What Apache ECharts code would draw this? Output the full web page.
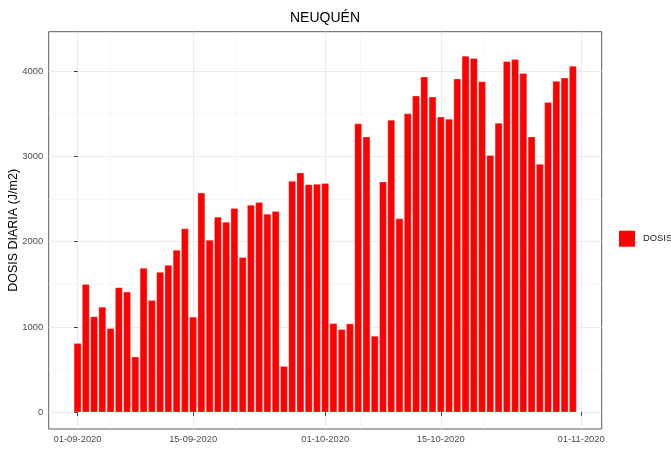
<!DOCTYPE html>
<html><head><meta charset="utf-8">
<script src="https://cdn.jsdelivr.net/npm/echarts@6/dist/echarts.min.js"></script>
<style>html,body{margin:0;padding:0;background:#fff}#c{width:671px;height:449px}</style>
</head><body><div id="c"></div>
<script>
// Daily dose (J/m2), one bar per day from 01-09-2020 to 31-10-2020
const dosis = [810,1500,1122,1235,984,1463,1412,651,1690,1314,
  1643,1725,1902,2153,1118,2573,2020,2290,2231,2392,
  1816,2431,2463,2325,2357,541,2710,2808,2671,2675,
  2686,1043,973,1039,3384,3231,894,2702,3427,2271,
  3502,3710,3933,3698,3463,3439,3910,4176,4149,3878,
  3012,3392,4114,4137,3973,3231,2910,3635,3882,3922,4059];
// x position = days since 01-09-2020
const xTickDays = [0,14,30,44,61];
const xTickLabels = ['01-09-2020','15-09-2020','01-10-2020','15-10-2020','01-11-2020'];
const xMinorDays = [4,19.25,34.25,49.25];
const yTicks = [0,1000,2000,3000,4000];
const yMinor = [500,1500,2500,3500];

const font = '"Liberation Sans", Arial, sans-serif';
const xMin = -3.495, xMax = 63.495, yMin = -196, yMax = 4461;
const chart = echarts.init(document.getElementById('c'));
const labelFor = v => {
  let best = 0;
  xTickDays.forEach((d, i) => { if (Math.abs(d - v) < Math.abs(xTickDays[best] - v)) best = i; });
  return xTickLabels[best];
};
chart.setOption({
  animation: false,
  backgroundColor: '#fff',
  grid: {left: 48.7, top: 31.7, right: 69.3, bottom: 20, show: true, borderColor: '#5a5a5a', borderWidth: 1, containLabel: false},
  graphic: [
    {type: 'text', x: 325, y: 18.5, style: {text: 'NEUQUÉN', fill: '#000', font: '14px ' + font, textAlign: 'center', textVerticalAlign: 'middle'}},
    {type: 'text', x: 13.5, y: 230.4, rotation: Math.PI / 2, style: {text: 'DOSIS DIARIA (J/m2)', fill: '#000', font: '12.5px ' + font, textAlign: 'center', textVerticalAlign: 'middle'}}
  ],
  legend: {
    left: 619, top: 230.7, padding: 0, itemWidth: 16, itemHeight: 16, icon: 'rect',
    itemStyle: {borderWidth: 0},
    textStyle: {fontFamily: font, fontSize: 9.4, color: '#222', padding: [0, 0, 0, 3]},
    data: ['DOSIS']
  },
  xAxis: [
    {type: 'value', min: xMin, max: xMax, position: 'bottom',
     axisLine: {show: false},
     axisTick: {show: true, length: 3.5, lineStyle: {color: '#333', width: 1}, customValues: xTickDays},
     axisLabel: {customValues: xTickDays, formatter: labelFor, fontFamily: font, fontSize: 9.4, color: '#4d4d4d', margin: 5.5},
     splitLine: {show: true, lineStyle: {color: '#ebebeb', width: 1}}},
    {type: 'value', min: xMin, max: xMax, position: 'bottom',
     axisLine: {show: false},
     axisTick: {show: false, customValues: xMinorDays},
     axisLabel: {show: false},
     splitLine: {show: true, lineStyle: {color: '#f3f3f3', width: 0.7}}}
  ],
  yAxis: [
    {type: 'value', min: yMin, max: yMax, position: 'left',
     axisLine: {show: false},
     axisTick: {show: true, length: 3.5, lineStyle: {color: '#333', width: 1}, customValues: yTicks},
     axisLabel: {customValues: yTicks, formatter: v => String(Math.round(v)), fontFamily: font, fontSize: 9.4, color: '#4d4d4d', margin: 5.5},
     splitLine: {show: true, lineStyle: {color: '#ebebeb', width: 1}}},
    {type: 'value', min: yMin, max: yMax, position: 'left',
     axisLine: {show: false},
     axisTick: {show: false, customValues: yMinor},
     axisLabel: {show: false},
     splitLine: {show: true, lineStyle: {color: '#f3f3f3', width: 0.7}}}
  ],
  series: [{
    type: 'bar', name: 'DOSIS', xAxisIndex: 0, yAxisIndex: 0,
    data: dosis.map((v, i) => [i, v]),
    barWidth: '90%',
    itemStyle: {color: '#ff0000', borderColor: 'rgba(255,255,255,0.55)', borderWidth: 0.5},
    emphasis: {disabled: true}
  }]
});
</script></body></html>
